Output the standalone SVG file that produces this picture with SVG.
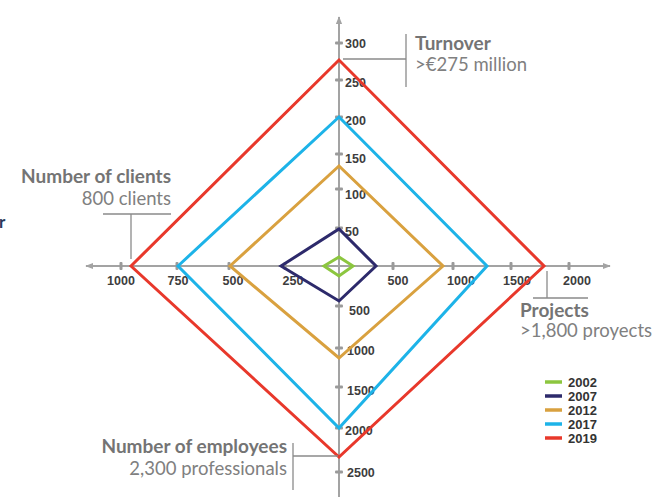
<svg xmlns="http://www.w3.org/2000/svg" width="670" height="499" viewBox="0 0 670 499">
<defs>
<style>
.axis{stroke:#a3a3a3;stroke-width:2;fill:none}
.tick{fill:#9a9a9a}
.num{font-family:"Liberation Sans",Arial,sans-serif;font-size:12.5px;font-weight:bold;fill:#3d3d3d}
.ser{fill:none;stroke-width:3;stroke-linejoin:miter}
.lead{stroke:#8a8a8a;stroke-width:1.3;fill:none}
.tb{font-family:Lato,"Open Sans",sans-serif;font-size:19px;font-weight:bold;fill:#747474}
.tr{font-family:Lato,"Open Sans",sans-serif;font-size:18.5px;fill:#808080}
.leg{font-family:"Liberation Sans",Arial,sans-serif;font-size:13px;font-weight:bold;fill:#333}
</style>
<marker id="ah" viewBox="0 0 10 10" refX="9" refY="5" markerWidth="4" markerHeight="4" orient="auto"><path d="M0,1 L10,5 L0,9 z" fill="#a3a3a3"/></marker>
</defs>
<rect width="670" height="499" fill="#ffffff"/>

<g id="axes">
<line class="axis" x1="339" y1="497" x2="339" y2="17" marker-end="url(#ah)"/>
<line class="axis" x1="339" y1="266" x2="339" y2="497"/>
<line class="axis" x1="339" y1="266" x2="86" y2="266" marker-end="url(#ah)"/>
<line class="axis" x1="339" y1="266" x2="610" y2="266" marker-end="url(#ah)"/>
<g class="tick">
<rect x="335" y="41.5" width="8" height="3" rx="1"/>
<rect x="335" y="78.5" width="8" height="3" rx="1"/>
<rect x="335" y="115.5" width="8" height="3" rx="1"/>
<rect x="335" y="152.5" width="8" height="3" rx="1"/>
<rect x="335" y="187.5" width="8" height="3" rx="1"/>
<rect x="335" y="226.5" width="8" height="3" rx="1"/>
<rect x="335" y="304.5" width="8" height="3" rx="1"/>
<rect x="335" y="346.5" width="8" height="3" rx="1"/>
<rect x="335" y="385.5" width="8" height="3" rx="1"/>
<rect x="335" y="426.5" width="8" height="3" rx="1"/>
<rect x="335" y="470.5" width="8" height="3" rx="1"/>
<rect x="119.5" y="262" width="3" height="8" rx="1"/>
<rect x="175.5" y="262" width="3" height="8" rx="1"/>
<rect x="227.5" y="262" width="3" height="8" rx="1"/>
<rect x="283.5" y="262" width="3" height="8" rx="1"/>
<rect x="391.5" y="262" width="3" height="8" rx="1"/>
<rect x="451.5" y="262" width="3" height="8" rx="1"/>
<rect x="509.5" y="262" width="3" height="8" rx="1"/>
<rect x="567.5" y="262" width="3" height="8" rx="1"/>
</g>
<g class="num">
<text x="345" y="48">300</text>
<text x="345" y="87">250</text>
<text x="345" y="125">200</text>
<text x="345" y="163">150</text>
<text x="345" y="199">100</text>
<text x="345" y="236">50</text>
<text x="349" y="315">500</text>
<text x="347" y="355">1000</text>
<text x="347" y="395">1500</text>
<text x="345" y="435">2000</text>
<text x="347" y="477">2500</text>
<g text-anchor="middle">
<text x="121" y="285">1000</text>
<text x="178" y="285">750</text>
<text x="233" y="285">500</text>
<text x="293" y="285">250</text>
<text x="398" y="285">500</text>
<text x="461" y="285">1000</text>
<text x="517" y="285">1500</text>
<text x="577" y="285">2000</text>
</g>
</g>
</g>

<g id="series">
<polygon id="s2019" class="ser" stroke="#e8382b" points="131,266 339,60 544,266 339,457"/>
<polygon id="s2017" class="ser" stroke="#1db3e8" points="178,266 339,117 487,266 339,428"/>
<polygon id="s2012" class="ser" stroke="#d9a13f" points="230,266 339,166 443,266 339,358"/>
<polygon id="s2007" class="ser" stroke="#2d2a6b" points="281,266 339,229 376,266 339,301"/>
<polygon id="s2002" class="ser" stroke="#8cc63f" points="324,266 339,257 353,266 339,276"/>
</g>

<g id="connectors">
<polyline class="lead" points="343,59 406,59"/>
<line class="lead" x1="406" y1="34" x2="406" y2="87"/>
<polyline class="lead" points="103,214 171,214"/>
<line class="lead" x1="131" y1="214" x2="131" y2="259"/>
<line class="lead" x1="547" y1="271" x2="547" y2="298"/>
<line class="lead" x1="533" y1="298" x2="588" y2="298"/>
<line class="lead" x1="293" y1="443" x2="293" y2="490"/>
<line class="lead" x1="293" y1="456" x2="338" y2="456"/>
</g>

<g id="label-turnover">
<text class="tb" x="415" y="50">Turnover</text>
<text class="tr" x="415" y="71">&gt;€275 million</text>
</g>
<g id="label-clients" text-anchor="end">
<text class="tb" x="171" y="183">Number of clients</text>
<text class="tr" x="171" y="205">800 clients</text>
</g>
<g id="label-projects">
<text class="tb" x="520" y="317">Projects</text>
<text class="tr" x="520" y="337">&gt;1,800 proyects</text>
</g>
<g id="label-employees" text-anchor="end">
<text class="tb" x="287" y="453">Number of employees</text>
<text class="tr" x="287" y="475">2,300 professionals</text>
</g>
<g id="stray">
<text x="-1" y="228" font-family="Lato,'Open Sans',sans-serif" font-size="17" font-weight="bold" fill="#2b3a5a">r</text>
</g>

<g id="legend">
<g stroke-width="3.5">
<line x1="545" y1="382" x2="562" y2="382" stroke="#8cc63f"/>
<line x1="545" y1="396" x2="562" y2="396" stroke="#2d2a6b"/>
<line x1="545" y1="410" x2="562" y2="410" stroke="#d9a13f"/>
<line x1="545" y1="424" x2="562" y2="424" stroke="#1db3e8"/>
<line x1="545" y1="438" x2="562" y2="438" stroke="#e8382b"/>
</g>
<text class="leg" x="568" y="387">2002</text>
<text class="leg" x="568" y="401">2007</text>
<text class="leg" x="568" y="415">2012</text>
<text class="leg" x="568" y="429">2017</text>
<text class="leg" x="568" y="443">2019</text>
</g>
</svg>
